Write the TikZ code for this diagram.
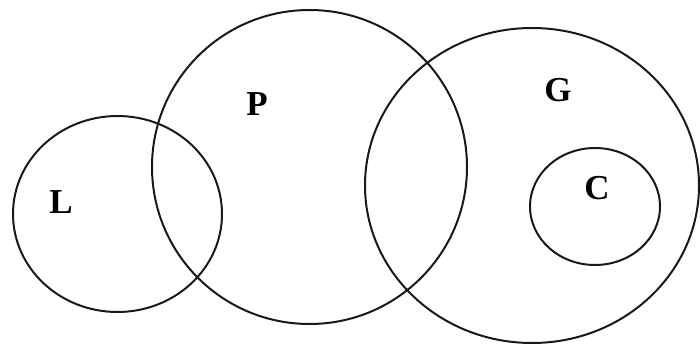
\documentclass[tikz,border=0pt]{standalone}
\usepackage{fontspec}
\setmainfont{Liberation Serif}
\begin{document}
\begin{tikzpicture}[x=1pt,y=-1pt,
  setring/.style={draw=black!90,line width=2pt},
  setlabel/.style={font=\fontsize{35}{35}\selectfont\bfseries,inner sep=0pt}]
\useasboundingbox (0,0) rectangle (700,347);
\draw[setring] (117.5,214) ellipse [x radius=104.5,y radius=98];
\draw[setring] (309.5,167) ellipse [x radius=157.5,y radius=157];
\draw[setring] (532,185.5) ellipse [x radius=167,y radius=157.5];
\draw[setring] (595,206.5) ellipse [x radius=65,y radius=58.5];
\node[setlabel] (L) at (61,202) {L};
\node[setlabel] (P) at (257,104) {P};
\node[setlabel] (G) at (558,90) {G};
\node[setlabel] (C) at (597,188) {C};
\end{tikzpicture}
\end{document}
